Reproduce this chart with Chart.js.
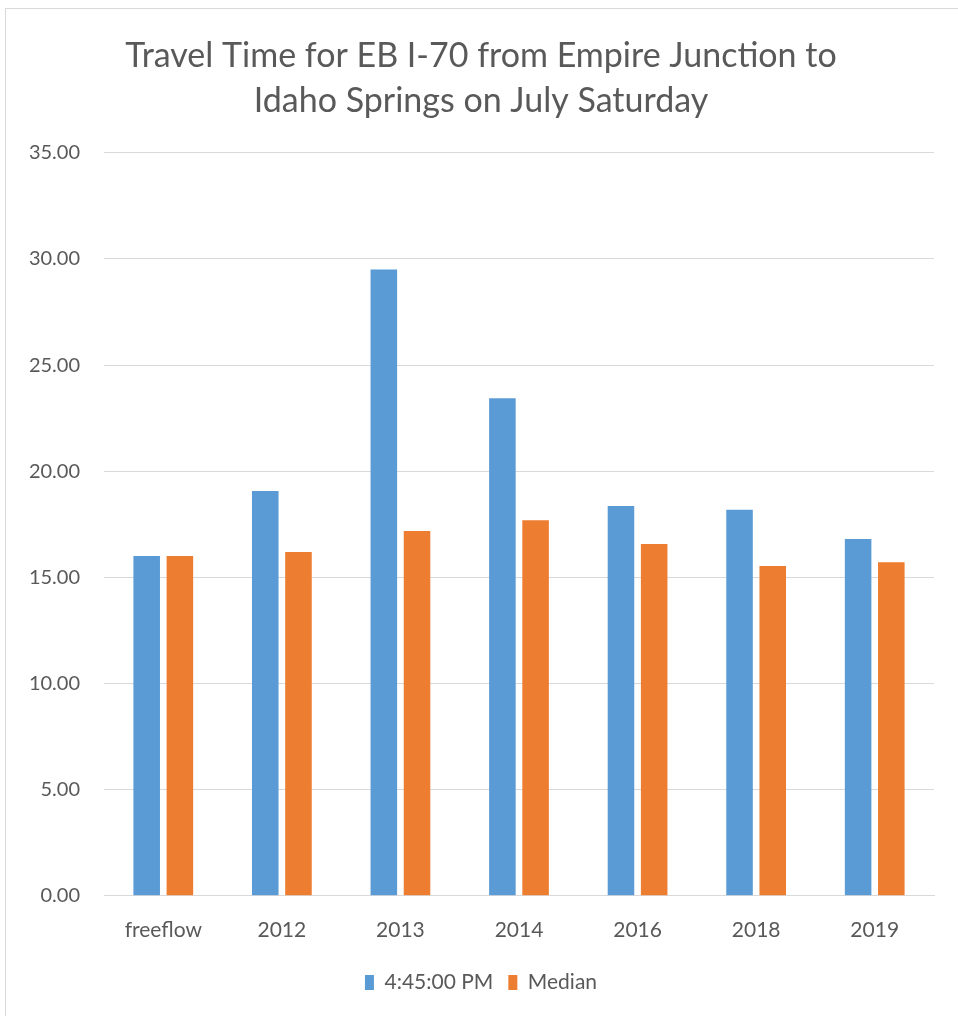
<!DOCTYPE html>
<html>
<head>
<meta charset="utf-8">
<script src="https://cdn.jsdelivr.net/npm/chart.js@4.4.0/dist/chart.umd.min.js"></script>
<style>
  html, body { margin: 0; padding: 0; background: #fff; }
  #frame {
    position: absolute; left: 5px; top: 8px; width: 960px; height: 1010px;
    border: 1px solid #d9d9d9; box-sizing: border-box;
  }
  #wrap { position: absolute; left: 0; top: 0; width: 958px; height: 1016px; }
</style>
</head>
<body>
<div id="frame"></div>
<div id="wrap"><canvas id="travelChart"></canvas></div>
<script>
// travel time chart, EB I-70

const categories = ['freeflow', '2012', '2013', '2014', '2016', '2018', '2019'];
const pm445 = [16.0, 19.07, 29.5, 23.44, 18.36, 18.19, 16.81];
const median = [16.0, 16.19, 17.18, 17.69, 16.57, 15.53, 15.71];
const seriesNames = ['4:45:00 PM', 'Median'];
const titleLines = ['Travel Time for EB I-70 from Empire Junction to', 'Idaho Springs on July Saturday'];

const FONT = "Lato, 'Open Sans', 'Liberation Sans', sans-serif";
const textGrey = '#595959';

const ctx = document.getElementById('travelChart').getContext('2d');

new Chart(ctx, {
  type: 'bar',
  data: {
    labels: categories,
    datasets: [
      { label: seriesNames[0], data: pm445, backgroundColor: '#5b9bd5' },
      { label: seriesNames[1], data: median, backgroundColor: '#ed7d31' }
    ]
  },
  options: {
    responsive: true,
    maintainAspectRatio: false,
    animation: false,
    categoryPercentage: 0.56,
    barPercentage: 0.8,
    layout: { padding: { left: 28, right: 24, top: 0, bottom: 13 } },
    scales: {
      x: {
        grid: { display: false },
        border: { color: '#d9d9d9' },
        ticks: { color: textGrey, font: { family: FONT, size: 21 }, padding: 14 }
      },
      y: {
        min: 0,
        max: 35,
        ticks: {
          stepSize: 5,
          color: textGrey,
          padding: 24,
          font: { family: FONT, size: 20 },
          callback: v => v.toFixed(2)
        },
        grid: { color: '#d9d9d9', drawTicks: false },
        border: { display: false },
        // labels are clipped to the scale box, keep it wide enough
        afterFit: scale => { scale.width = 76; }
      }
    },
    plugins: {
      title: {
        display: true,
        text: titleLines,
        color: textGrey,
        font: { family: FONT, size: 34, weight: 'normal', lineHeight: 1.32 },
        padding: { top: 34, bottom: 29 }
      },
      legend: {
        position: 'bottom',
        labels: {
          color: textGrey,
          font: { family: FONT, size: 21 },
          boxWidth: 9,
          boxHeight: 15,
          padding: 15
        }
      },
      tooltip: { enabled: false }
    }
  }
});
</script>
</body>
</html>
